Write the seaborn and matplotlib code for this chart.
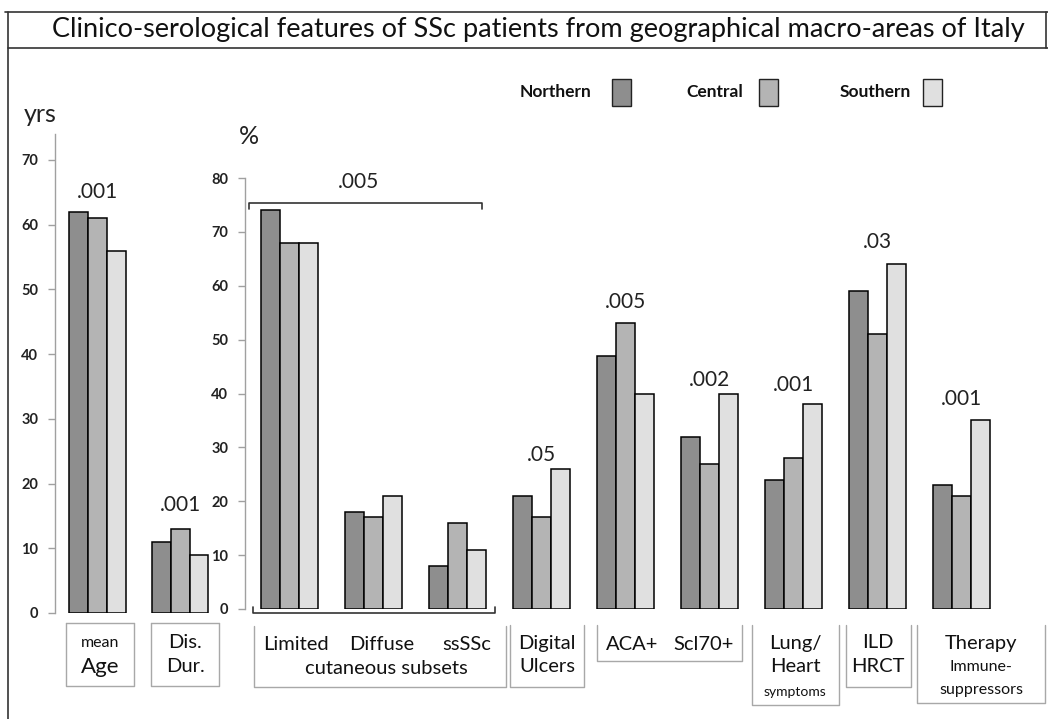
import numpy as np
import pandas as pd
import matplotlib
matplotlib.use("Agg")
import matplotlib.pyplot as plt
from matplotlib.patches import Rectangle
import seaborn as sns

sns.set_theme(style="white")
plt.rcParams["font.family"] = ["Lato", "DejaVu Sans"]

# --- dados ---
regions = ["Northern", "Central", "Southern"]
region_colors = ["#8e8e8e", "#b4b4b4", "#e0e0e0"]

yrs_cats = ["Age", "Dis. Dur."]
yrs_northern = [62, 11]
yrs_central = [61, 13]
yrs_southern = [56, 9]
yrs_p_txt = [".001", ".001"]
yrs_p_y = [65, 16.7]

pct_cats = ["Limited", "Diffuse", "ssSSc", "Digital Ulcers", "ACA+",
            "Scl70+", "Lung/Heart", "ILD HRCT", "Therapy"]
pct_northern = [74, 18, 8, 21, 47, 32, 24, 59, 23]
pct_central = [68, 17, 16, 17, 53, 27, 28, 51, 21]
pct_southern = [68, 21, 11, 26, 40, 40, 38, 64, 35]
pct_p_idx = [3, 4, 5, 6, 7, 8]
pct_p_txt = [".05", ".005", ".002", ".001", ".03", ".001"]
pct_p_y = [28.5, 57, 42.5, 41.5, 68.2, 39]

title = "Clinico-serological features of SSc patients from geographical macro-areas of Italy"


def long_df(cats, *series):
    rows = []
    for reg, vals in zip(regions, series):
        for c, v in zip(cats, vals):
            rows.append({"cat": c, "region": reg, "val": v})
    return pd.DataFrame(rows)


df_yrs = long_df(yrs_cats, yrs_northern, yrs_central, yrs_southern)
df_pct = long_df(pct_cats, pct_northern, pct_central, pct_southern)
palette = dict(zip(regions, region_colors))

W, H = 1048, 719
fig = plt.figure(figsize=(W / 100, H / 100), dpi=100)


def px_rect(left, right, bottom, top):
    return [left / W, (H - bottom) / H, (right - left) / W, (bottom - top) / H]


# overlay em pixels para moldura, caixas e legenda
ov = fig.add_axes([0, 0, 1, 1])
ov.set_xlim(0, W)
ov.set_ylim(H, 0)
ov.axis("off")

ax_yrs = fig.add_axes(px_rect(55, 221.6, 613, 134))
ax_pct = fig.add_axes(px_rect(245, 1036.8, 609, 178))

for ax, df, cats in [(ax_yrs, df_yrs, yrs_cats), (ax_pct, df_pct, pct_cats)]:
    sns.barplot(data=df, x="cat", y="val", hue="region", order=cats,
                hue_order=regions, palette=palette, width=0.68, gap=0,
                edgecolor="black", linewidth=1.1, saturation=1,
                errorbar=None, legend=False, ax=ax)
    ax.patch.set_visible(False)
    for s in ["top", "right", "bottom"]:
        ax.spines[s].set_visible(False)
    ax.spines["left"].set_color("#a0a0a0")
    ax.spines["left"].set_linewidth(1)
    ax.set_xticks([])
    ax.set_xlabel("")
    ax.set_ylabel("")
    ax.tick_params(axis="y", length=5, width=1, color="#a0a0a0",
                   labelsize=10.5, pad=7, labelcolor="#222222", left=True)

ax_yrs.set_xlim(-0.514, 1.5)
ax_yrs.set_ylim(0, 74)
ax_yrs.set_yticks(range(0, 71, 10))

ax_pct.set_xlim(-0.526, 8.9)
ax_pct.set_ylim(0, 80)
ax_pct.set_yticks(range(0, 81, 10))

for ax in (ax_yrs, ax_pct):
    for t in ax.get_yticklabels():
        t.set_fontweight("bold")

# p-values
for i, (t, y) in enumerate(zip(yrs_p_txt, yrs_p_y)):
    ax_yrs.text(i, y, t, ha="center", va="center", fontsize=15, color="#222222")
for i, t, y in zip(pct_p_idx, pct_p_txt, pct_p_y):
    ax_pct.text(i, y, t, ha="center", va="center", fontsize=15, color="#222222")

# chave das subclasses cutaneas
ax_pct.plot([-0.48, -0.48, 2.29, 2.29], [74.2, 75.4, 75.4, 74.2],
            color="#333333", lw=1.2, clip_on=False)
ax_pct.text(0.82, 79.3, ".005", ha="center", va="center", fontsize=15, color="#222222")
ax_pct.plot([-0.43, -0.43, 2.45, 2.45], [0.4, -0.7, -0.7, 0.4],
            color="#333333", lw=1.2, clip_on=False)

# eixos: rotulos de unidade
ov.text(40, 115, "yrs", ha="center", va="center", fontsize=18, color="#222222")
ov.text(249, 136, "%", ha="center", va="center", fontsize=18, color="#222222")

# moldura e titulo
ov.plot([8, 8], [12, H], color="#333333", lw=1.2)
ov.plot([5, W], [12, 12], color="#333333", lw=1.2)
ov.plot([8, W], [48, 48], color="#333333", lw=1.2)
ov.plot([1046, 1046], [12, 48], color="#333333", lw=1.2)
ov.text(538, 30, title, ha="center", va="center", fontsize=19.5,
        color="#111111")

# legenda
leg_text_x = [520, 686, 840]
leg_box_x = [612, 759, 923]
for reg, col, tx, bx in zip(regions, region_colors, leg_text_x, leg_box_x):
    ov.text(tx, 92, reg, ha="left", va="center", fontsize=12.5,
            fontweight="bold", color="#111111")
    ov.add_patch(Rectangle((bx, 79), 19, 27, facecolor=col,
                           edgecolor="#222222", lw=1))

# caixas de rotulos
box_col = "#a8a8a8"


def box(x0, x1, y0, y1, top=False):
    ov.plot([x0, x0, x1, x1], [y0, y1, y1, y0], color=box_col, lw=1)
    if top:
        ov.plot([x0, x1], [y0, y0], color=box_col, lw=1)


def lab(x, y, s, size=14.5):
    ov.text(x, y, s, ha="center", va="center", fontsize=size, color="#111111")


box(66, 134, 623, 686, top=True)
lab(100, 643, "mean", 11.5)
lab(100, 667, "Age", 16)

box(151, 219, 623, 686, top=True)
lab(185, 643, "Dis.")
lab(185, 667, "Dur.")

box(254, 506, 626, 687)
lab(296, 645, "Limited")
lab(382, 645, "Diffuse")
lab(467, 645, "ssSSc")
lab(386, 668, "cutaneous subsets")

box(510, 584, 625, 687)
lab(547, 643, "Digital")
lab(547, 667, "Ulcers")

box(597, 742, 625, 661)
lab(632, 645, "ACA+")
lab(704, 645, "Scl70+")

box(752, 839, 625, 705)
lab(795, 643, "Lung/")
lab(795, 667, "Heart")
lab(795, 692, "symptoms", 10)

box(846, 911, 625, 687)
lab(878, 643, "ILD")
lab(878, 667, "HRCT")

box(917, 1045, 625, 703)
lab(981, 643, "Therapy")
lab(981, 667, "Immune-", 11.5)
lab(981, 690, "suppressors", 11.5)

fig.savefig("out.png", dpi=100, facecolor="white")
